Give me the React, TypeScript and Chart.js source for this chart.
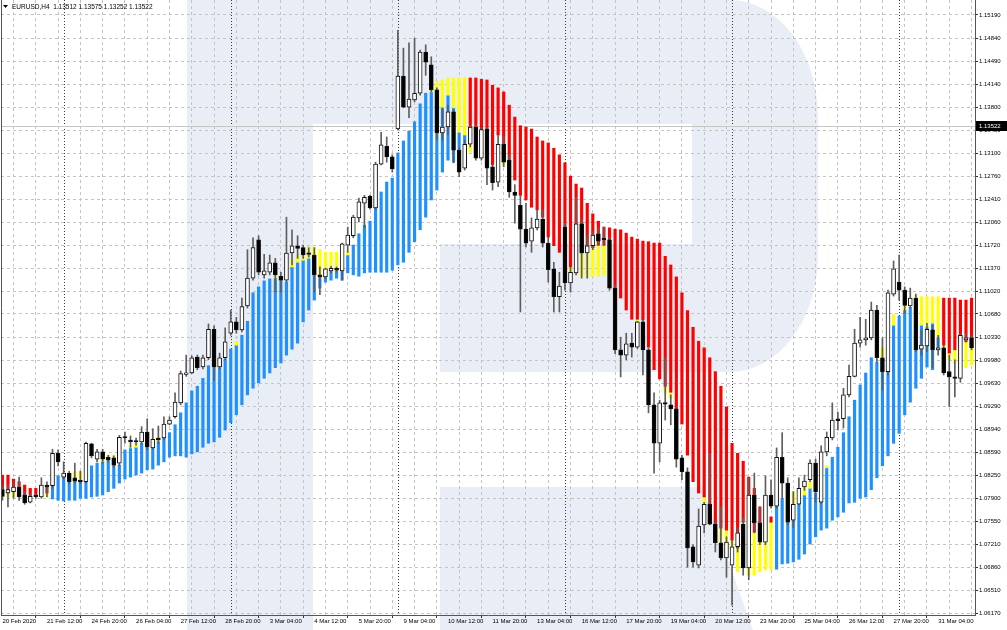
import React, { useEffect, useRef } from 'react';
import { Chart, registerables } from 'chart.js';

Chart.register(...registerables);

// ---- Data (EURUSD H4, 20 Feb 2020 04:00 .. 31 Mar 2020) ----
const opens = [
  1.0803, 1.0798, 1.0800, 1.0807, 1.0795, 1.0784, 1.0795, 1.0792, 1.0810, 1.0809,
  1.0858, 1.0822, 1.0828, 1.0821, 1.0816, 1.0815, 1.0872, 1.0849, 1.0860, 1.0852,
  1.0851, 1.0843, 1.0882, 1.0878, 1.0876, 1.0875, 1.0890, 1.0866, 1.0881, 1.0881,
  1.0902, 1.0913, 1.0934, 1.0977, 1.0979, 1.1003, 1.0988, 1.1002, 1.1045, 1.0988,
  1.1002, 1.1039, 1.1056, 1.1044, 1.1080, 1.1122, 1.1180, 1.1127, 1.1131, 1.1145,
  1.1125, 1.1119, 1.1160, 1.1171, 1.1168, 1.1160, 1.1157, 1.1127, 1.1124, 1.1133,
  1.1137, 1.1133, 1.1172, 1.1186, 1.1213, 1.1235, 1.1246, 1.1228, 1.1294, 1.1321,
  1.1305, 1.1347, 1.1427, 1.1380, 1.1391, 1.1401, 1.1463, 1.1444, 1.1406, 1.1341,
  1.1350, 1.1373, 1.1315, 1.1288, 1.1324, 1.1350, 1.1303, 1.1347, 1.1290, 1.1267,
  1.1324, 1.1300, 1.1252, 1.1232, 1.1196, 1.1178, 1.1198, 1.1211, 1.1175, 1.1136,
  1.1094, 1.1199, 1.1115, 1.1130, 1.1204, 1.1160, 1.1171, 1.1189, 1.1181, 1.1180,
  1.1107, 1.1014, 1.1006, 1.1024, 1.1018, 1.1056, 1.1014, 1.0931, 1.0873, 1.0934,
  1.0931, 1.0925, 1.0851, 1.0830, 1.0717, 1.0689, 1.0750, 1.0781, 1.0751, 1.0723,
  1.0700, 1.0689, 1.0717, 1.0751, 1.0685, 1.0795, 1.0753, 1.0724, 1.0795, 1.0778,
  1.0852, 1.0813, 1.0757, 1.0781, 1.0807, 1.0818, 1.0843, 1.0784, 1.0860, 1.0881,
  1.0910, 1.0910, 1.0946, 1.0974, 1.1024, 1.1029, 1.1032, 1.1074, 1.1002, 1.0981,
  1.1098, 1.1116, 1.1104, 1.1080, 1.1092, 1.1015, 1.1020, 1.1044, 1.1014, 1.1017,
  1.0981, 1.0973, 1.0971, 1.1029, 1.1032,
];
const highs = [
  1.0809, 1.0810, 1.0815, 1.0822, 1.0800, 1.0797, 1.0797, 1.0821, 1.0815, 1.0864,
  1.0863, 1.0845, 1.0831, 1.0843, 1.0831, 1.0875, 1.0873, 1.0864, 1.0864, 1.0855,
  1.0854, 1.0885, 1.0890, 1.0884, 1.0881, 1.0898, 1.0910, 1.0895, 1.0899, 1.0913,
  1.0913, 1.0949, 1.0982, 1.1006, 1.1005, 1.1006, 1.1006, 1.1053, 1.1050, 1.1009,
  1.1047, 1.1074, 1.1063, 1.1092, 1.1165, 1.1183, 1.1186, 1.1158, 1.1157, 1.1152,
  1.1131, 1.1214, 1.1195, 1.1186, 1.1172, 1.1168, 1.1168, 1.1139, 1.1137, 1.1140,
  1.1139, 1.1175, 1.1199, 1.1217, 1.1243, 1.1247, 1.1247, 1.1297, 1.1342, 1.1335,
  1.1308, 1.1496, 1.1469, 1.1477, 1.1484, 1.1466, 1.1474, 1.1456, 1.1409, 1.1379,
  1.1383, 1.1376, 1.1318, 1.1330, 1.1353, 1.1353, 1.1349, 1.1350, 1.1294, 1.1338,
  1.1335, 1.1308, 1.1263, 1.1247, 1.1235, 1.1213, 1.1225, 1.1225, 1.1184, 1.1146,
  1.1131, 1.1205, 1.1139, 1.1244, 1.1210, 1.1187, 1.1192, 1.1198, 1.1199, 1.1184,
  1.1112, 1.1033, 1.1039, 1.1039, 1.1057, 1.1059, 1.1017, 1.0949, 1.0938, 1.1002,
  1.0946, 1.0928, 1.0855, 1.0836, 1.0720, 1.0774, 1.0784, 1.0858, 1.0754, 1.0777,
  1.0732, 1.0727, 1.0746, 1.0760, 1.0821, 1.0828, 1.0777, 1.0824, 1.0818, 1.0866,
  1.0889, 1.0821, 1.0800, 1.0821, 1.0825, 1.0848, 1.0849, 1.0869, 1.0890, 1.0934,
  1.0920, 1.0956, 1.0991, 1.1045, 1.1063, 1.1060, 1.1086, 1.1081, 1.1032, 1.1104,
  1.1148, 1.1157, 1.1109, 1.1107, 1.1098, 1.1044, 1.1054, 1.1051, 1.1036, 1.1021,
  1.1006, 1.0999, 1.1039, 1.1039, 1.1035,
];
const lows = [
  1.0787, 1.0777, 1.0790, 1.0787, 1.0781, 1.0783, 1.0790, 1.0790, 1.0792, 1.0805,
  1.0839, 1.0819, 1.0812, 1.0813, 1.0812, 1.0813, 1.0851, 1.0845, 1.0843, 1.0845,
  1.0836, 1.0839, 1.0873, 1.0867, 1.0870, 1.0872, 1.0863, 1.0864, 1.0873, 1.0878,
  1.0901, 1.0911, 1.0931, 1.0974, 1.0978, 1.0984, 1.0985, 1.0999, 1.0968, 1.0985,
  1.0999, 1.1036, 1.1039, 1.1041, 1.1077, 1.1119, 1.1127, 1.1122, 1.1127, 1.1101,
  1.1101, 1.1116, 1.1142, 1.1152, 1.1152, 1.1154, 1.1101, 1.1097, 1.1121, 1.1130,
  1.1131, 1.1119, 1.1161, 1.1183, 1.1207, 1.1198, 1.1226, 1.1226, 1.1293, 1.1297,
  1.1282, 1.1346, 1.1379, 1.1364, 1.1388, 1.1398, 1.1428, 1.1403, 1.1330, 1.1330,
  1.1338, 1.1296, 1.1275, 1.1285, 1.1320, 1.1300, 1.1300, 1.1263, 1.1255, 1.1260,
  1.1290, 1.1244, 1.1205, 1.1071, 1.1169, 1.1161, 1.1195, 1.1169, 1.1116, 1.1071,
  1.1071, 1.1104, 1.1101, 1.1127, 1.1122, 1.1122, 1.1165, 1.1171, 1.1171, 1.1104,
  1.1008, 1.0973, 1.0999, 1.1003, 1.1016, 1.0976, 1.0919, 1.0828, 1.0845, 1.0908,
  1.0901, 1.0837, 1.0818, 1.0686, 1.0686, 1.0685, 1.0738, 1.0750, 1.0709, 1.0697,
  1.0671, 1.0629, 1.0709, 1.0674, 1.0667, 1.0738, 1.0720, 1.0720, 1.0775, 1.0775,
  1.0790, 1.0750, 1.0746, 1.0780, 1.0802, 1.0815, 1.0784, 1.0781, 1.0854, 1.0878,
  1.0893, 1.0896, 1.0943, 1.0973, 1.1018, 1.1021, 1.1029, 1.0995, 1.0953, 1.0976,
  1.1095, 1.1089, 1.1069, 1.1077, 1.1011, 1.1006, 1.1011, 1.0987, 1.1006, 1.0976,
  1.0928, 1.0943, 1.0965, 1.1026, 1.1014,
];
const closes = [
  1.0793, 1.0803, 1.0807, 1.0792, 1.0783, 1.0793, 1.0792, 1.0810, 1.0807, 1.0858,
  1.0845, 1.0828, 1.0815, 1.0816, 1.0815, 1.0873, 1.0854, 1.0860, 1.0849, 1.0848,
  1.0840, 1.0882, 1.0881, 1.0875, 1.0875, 1.0890, 1.0867, 1.0879, 1.0878, 1.0902,
  1.0908, 1.0935, 1.0978, 1.0979, 1.1002, 1.0987, 1.1002, 1.1045, 1.0988, 1.1002,
  1.1026, 1.1056, 1.1044, 1.1079, 1.1122, 1.1168, 1.1131, 1.1133, 1.1145, 1.1127,
  1.1119, 1.1160, 1.1171, 1.1167, 1.1157, 1.1158, 1.1127, 1.1124, 1.1136, 1.1137,
  1.1134, 1.1174, 1.1187, 1.1214, 1.1237, 1.1244, 1.1228, 1.1294, 1.1323, 1.1305,
  1.1287, 1.1427, 1.1380, 1.1392, 1.1401, 1.1463, 1.1448, 1.1406, 1.1341, 1.1350,
  1.1373, 1.1315, 1.1282, 1.1324, 1.1350, 1.1303, 1.1346, 1.1288, 1.1266, 1.1324,
  1.1297, 1.1252, 1.1247, 1.1196, 1.1175, 1.1198, 1.1211, 1.1175, 1.1135, 1.1094,
  1.1110, 1.1115, 1.1131, 1.1204, 1.1160, 1.1171, 1.1187, 1.1178, 1.1180, 1.1107,
  1.1014, 1.1006, 1.1023, 1.1018, 1.1056, 1.1014, 1.0931, 1.0873, 1.0934, 1.0932,
  1.0925, 1.0849, 1.0830, 1.0715, 1.0694, 1.0748, 1.0781, 1.0751, 1.0723, 1.0700,
  1.0724, 1.0717, 1.0738, 1.0685, 1.0795, 1.0753, 1.0724, 1.0795, 1.0778, 1.0852,
  1.0813, 1.0754, 1.0781, 1.0805, 1.0816, 1.0843, 1.0800, 1.0860, 1.0882, 1.0908,
  1.0907, 1.0946, 1.0974, 1.1024, 1.1029, 1.1032, 1.1074, 1.1002, 1.0981, 1.1100,
  1.1136, 1.1104, 1.1081, 1.1092, 1.1014, 1.1021, 1.1045, 1.1014, 1.1017, 1.0979,
  1.0973, 1.0971, 1.1036, 1.1032, 1.1017,
];

// Indicator histogram: U = blue [low, split] + yellow [split, high]; D = yellow [low, split] + red [split, high]
const trendRuns: [string, number][] = [['D', 9], ['U', 75], ['D', 55], ['U', 30], ['D', 6]];
const indLow = [
  1.0793, 1.0792, 1.0792, 1.0805, 1.0795, 1.0793, 1.0795, 1.0792, 1.0792, 1.0789,
  1.0787, 1.0786, 1.0787, 1.0787, 1.0790, 1.0790, 1.0792, 1.0793, 1.0795, 1.0800,
  1.0805, 1.0813, 1.0819, 1.0822, 1.0825, 1.0828, 1.0833, 1.0834, 1.0840, 1.0845,
  1.0852, 1.0854, 1.0854, 1.0852, 1.0857, 1.0860, 1.0867, 1.0873, 1.0875, 1.0882,
  1.0893, 1.0904, 1.0916, 1.0931, 1.0946, 1.0956, 1.0964, 1.0971, 1.0979, 1.0987,
  1.0994, 1.1006, 1.1015, 1.1024, 1.1056, 1.1074, 1.1089, 1.1107, 1.1116, 1.1119,
  1.1122, 1.1119, 1.1130, 1.1127, 1.1125, 1.1130, 1.1131, 1.1131, 1.1131, 1.1131,
  1.1134, 1.1142, 1.1146, 1.1161, 1.1177, 1.1195, 1.1214, 1.1240, 1.1255, 1.1282,
  1.1300, 1.1297, 1.1293, 1.1303, 1.1312, 1.1350, 1.1346, 1.1346, 1.1293, 1.1338,
  1.1293, 1.1285, 1.1270, 1.1247, 1.1240, 1.1229, 1.1225, 1.1214, 1.1184, 1.1171,
  1.1161, 1.1199, 1.1131, 1.1128, 1.1124, 1.1124, 1.1125, 1.1125, 1.1127, 1.1180,
  1.1092, 1.1092, 1.1074, 1.1060, 1.1056, 1.1059, 1.1018, 1.0984, 1.0970, 1.0949,
  1.0941, 1.0925, 1.0902, 1.0855, 1.0815, 1.0798, 1.0783, 1.0757, 1.0751, 1.0726,
  1.0724, 1.0717, 1.0679, 1.0689, 1.0674, 1.0674, 1.0679, 1.0682, 1.0682, 1.0683,
  1.0691, 1.0692, 1.0694, 1.0698, 1.0706, 1.0721, 1.0732, 1.0742, 1.0745, 1.0757,
  1.0762, 1.0769, 1.0783, 1.0784, 1.0790, 1.0792, 1.0803, 1.0821, 1.0839, 1.0854,
  1.0873, 1.0888, 1.0916, 1.0935, 1.0956, 1.0971, 1.0988, 1.0984, 1.1014, 1.1017,
  1.0999, 1.0994, 1.1036, 1.0987, 1.0991,
];
const indSplit = [
  1.0803, 1.0798, 1.0807, 1.0805, 1.0795, 1.0793, 1.0795, 1.0809, 1.0798, 1.0809,
  1.0824, 1.0822, 1.0815, 1.0818, 1.0816, 1.0815, 1.0839, 1.0843, 1.0845, 1.0848,
  1.0842, 1.0840, 1.0863, 1.0866, 1.0867, 1.0873, 1.0866, 1.0875, 1.0876, 1.0881,
  1.0889, 1.0901, 1.0919, 1.0934, 1.0952, 1.0959, 1.0971, 1.0990, 1.0988, 1.0987,
  1.1000, 1.1015, 1.1021, 1.1036, 1.1057, 1.1100, 1.1109, 1.1118, 1.1121, 1.1122,
  1.1119, 1.1116, 1.1139, 1.1146, 1.1149, 1.1152, 1.1127, 1.1124, 1.1134, 1.1134,
  1.1134, 1.1133, 1.1157, 1.1172, 1.1189, 1.1202, 1.1208, 1.1228, 1.1252, 1.1267,
  1.1273, 1.1311, 1.1329, 1.1344, 1.1358, 1.1385, 1.1401, 1.1403, 1.1406, 1.1379,
  1.1398, 1.1379, 1.1342, 1.1338, 1.1350, 1.1350, 1.1346, 1.1346, 1.1293, 1.1338,
  1.1300, 1.1285, 1.1270, 1.1247, 1.1240, 1.1229, 1.1225, 1.1214, 1.1184, 1.1171,
  1.1161, 1.1199, 1.1139, 1.1134, 1.1160, 1.1168, 1.1168, 1.1172, 1.1172, 1.1180,
  1.1092, 1.1092, 1.1074, 1.1060, 1.1060, 1.1059, 1.1018, 1.0984, 1.0970, 1.0959,
  1.0950, 1.0925, 1.0902, 1.0855, 1.0815, 1.0798, 1.0792, 1.0768, 1.0751, 1.0745,
  1.0742, 1.0727, 1.0715, 1.0754, 1.0795, 1.0739, 1.0753, 1.0787, 1.0754, 1.0778,
  1.0790, 1.0754, 1.0780, 1.0781, 1.0795, 1.0805, 1.0798, 1.0784, 1.0836, 1.0852,
  1.0867, 1.0889, 1.0913, 1.0938, 1.0961, 1.0979, 1.1002, 1.0995, 1.0981, 1.0981,
  1.1051, 1.1065, 1.1074, 1.1078, 1.1078, 1.1051, 1.1048, 1.1054, 1.1033, 1.1021,
  1.1009, 1.1014, 1.1036, 1.1026, 1.1032,
];
const indHigh = [
  1.0825, 1.0825, 1.0819, 1.0815, 1.0810, 1.0805, 1.0805, 1.0809, 1.0807, 1.0809,
  1.0824, 1.0822, 1.0815, 1.0830, 1.0830, 1.0815, 1.0839, 1.0843, 1.0851, 1.0855,
  1.0855, 1.0840, 1.0863, 1.0869, 1.0873, 1.0873, 1.0866, 1.0881, 1.0882, 1.0881,
  1.0889, 1.0901, 1.0919, 1.0934, 1.0952, 1.0959, 1.0971, 1.0990, 1.0988, 1.0987,
  1.1000, 1.1015, 1.1027, 1.1036, 1.1057, 1.1100, 1.1109, 1.1118, 1.1121, 1.1127,
  1.1119, 1.1116, 1.1149, 1.1157, 1.1157, 1.1169, 1.1169, 1.1165, 1.1161, 1.1161,
  1.1161, 1.1133, 1.1163, 1.1172, 1.1189, 1.1202, 1.1208, 1.1228, 1.1252, 1.1267,
  1.1273, 1.1311, 1.1329, 1.1344, 1.1358, 1.1385, 1.1401, 1.1413, 1.1419, 1.1421,
  1.1424, 1.1424, 1.1424, 1.1424, 1.1424, 1.1424, 1.1422, 1.1421, 1.1413, 1.1409,
  1.1403, 1.1383, 1.1365, 1.1352, 1.1350, 1.1347, 1.1335, 1.1329, 1.1326, 1.1318,
  1.1308, 1.1296, 1.1276, 1.1264, 1.1258, 1.1235, 1.1219, 1.1208, 1.1199, 1.1198,
  1.1196, 1.1195, 1.1190, 1.1184, 1.1181, 1.1178, 1.1177, 1.1175, 1.1175, 1.1155,
  1.1142, 1.1124, 1.1100, 1.1073, 1.1048, 1.1027, 1.1017, 1.1002, 1.0981, 1.0959,
  1.0928, 1.0873, 1.0858, 1.0846, 1.0822, 1.0805, 1.0777, 1.0787, 1.0762, 1.0778,
  1.0790, 1.0754, 1.0800, 1.0781, 1.0807, 1.0815, 1.0798, 1.0784, 1.0839, 1.0852,
  1.0867, 1.0889, 1.0913, 1.0938, 1.0961, 1.0979, 1.1002, 1.0995, 1.1017, 1.0981,
  1.1067, 1.1065, 1.1094, 1.1078, 1.1096, 1.1094, 1.1094, 1.1094, 1.1094, 1.1092,
  1.1092, 1.1092, 1.1089, 1.1089, 1.1092,
];

const yTickValues = [
  1.1519, 1.1484, 1.1449, 1.1414, 1.138, 1.1345, 1.131, 1.1276, 1.1241, 1.1206,
  1.1172, 1.1137, 1.1102, 1.1068, 1.1033, 1.0998, 1.0963, 1.0929, 1.0894, 1.0859,
  1.0825, 1.079, 1.0755, 1.0721, 1.0686, 1.0651, 1.0617,
];
const xTickLabels = [
  '20 Feb 2020', '21 Feb 12:00', '24 Feb 20:00', '26 Feb 04:00', '27 Feb 12:00', '28 Feb 20:00',
  '3 Mar 04:00', '4 Mar 12:00', '5 Mar 20:00', '9 Mar 04:00', '10 Mar 12:00', '11 Mar 20:00',
  '13 Mar 04:00', '16 Mar 12:00', '17 Mar 20:00', '19 Mar 04:00', '20 Mar 12:00', '23 Mar 20:00',
  '25 Mar 04:00', '26 Mar 12:00', '27 Mar 20:00', '31 Mar 04:00',
];
const barsPerLabel = 8;
const barsPerGrid = 4;
const weekStartBars = [11, 41, 71, 101, 131, 161];
const currentPrice = 1.13522;
const headerSymbol = 'EURUSD,H4';
const headerOHLC = ['1.13512', '1.13575', '1.13252', '1.13522'];

const FONT = '"Liberation Sans", Arial, "DejaVu Sans", sans-serif';
const BLUE = '#1e90ff';
const YELLOW = '#ffff00';
const RED = '#ff0000';

const decorPlugin = {
  id: 'decor',
  beforeDraw(chart: any) {
    const { ctx, width, height } = chart;
    ctx.save();
    ctx.fillStyle = '#ffffff';
    ctx.fillRect(0, 0, width, height);
    ctx.fillStyle = '#e9edf5';
    // watermark "R" logo
    ctx.fillRect(187, 0, 126, height);
    ctx.beginPath();
    ctx.moveTo(313, 0);
    ctx.lineTo(730, 0);
    ctx.ellipse(730, 117, 88, 117, 0, -Math.PI / 2, 0);
    ctx.lineTo(818, 255);
    ctx.ellipse(730, 255, 88, 117, 0, 0, Math.PI / 2);
    ctx.lineTo(440, 372);
    ctx.lineTo(440, 244);
    ctx.lineTo(692, 244);
    ctx.lineTo(692, 124);
    ctx.lineTo(313, 124);
    ctx.closePath();
    ctx.fill();
    ctx.beginPath();
    ctx.moveTo(440, 487);
    ctx.lineTo(702, 487);
    ctx.lineTo(753, height);
    ctx.lineTo(440, height);
    ctx.closePath();
    ctx.fill();
    ctx.restore();
  },
  beforeDatasetsDraw(chart: any) {
    const { ctx, chartArea, scales } = chart;
    ctx.save();
    ctx.beginPath();
    ctx.rect(chartArea.left, chartArea.top, chartArea.right - chartArea.left, chartArea.bottom - chartArea.top);
    ctx.clip();
    ctx.strokeStyle = '#3a3a3a';
    ctx.lineWidth = 1;
    ctx.setLineDash([1, 2]);
    weekStartBars.forEach((b) => {
      const x = Math.round(scales.x.getPixelForValue(b)) + 0.5;
      ctx.beginPath();
      ctx.moveTo(x, chartArea.top);
      ctx.lineTo(x, chartArea.bottom);
      ctx.stroke();
    });
    ctx.setLineDash([]);
    ctx.strokeStyle = '#c6c6c6';
    const y = Math.round(scales.y.getPixelForValue(currentPrice)) + 0.5;
    ctx.beginPath();
    ctx.moveTo(chartArea.left, y);
    ctx.lineTo(chartArea.right, y);
    ctx.stroke();
    ctx.restore();
  },
  afterDraw(chart: any) {
    const { ctx, chartArea, scales, width } = chart;
    ctx.save();
    ctx.strokeStyle = '#555555';
    ctx.lineWidth = 1;
    ctx.beginPath();
    ctx.moveTo(chartArea.left + 0.5, chartArea.top);
    ctx.lineTo(chartArea.left + 0.5, chartArea.bottom);
    ctx.stroke();
    const y = scales.y.getPixelForValue(currentPrice);
    ctx.fillStyle = '#000000';
    ctx.fillRect(chartArea.right + 1, Math.round(y) - 5, width - chartArea.right - 1, 10);
    ctx.fillStyle = '#ffffff';
    ctx.font = `6px ${FONT}`;
    ctx.textBaseline = 'middle';
    ctx.textAlign = 'left';
    ctx.fillText(currentPrice.toFixed(5), chartArea.right + 4, Math.round(y));
    ctx.fillStyle = '#000000';
    ctx.beginPath();
    ctx.moveTo(3, 5);
    ctx.lineTo(8, 5);
    ctx.lineTo(5.5, 8);
    ctx.closePath();
    ctx.fill();
    ctx.font = `6.5px ${FONT}`;
    ctx.fillText(`${headerSymbol}  ${headerOHLC.join(' ')}`, 12, 7);
    ctx.restore();
  },
};

export default function App() {
  const ref = useRef<HTMLCanvasElement>(null);

  useEffect(() => {
    document.body.style.margin = '0';
    const canvas = ref.current;
    if (!canvas) return;
    const n = opens.length;
    const trend: string[] = [];
    trendRuns.forEach(([t, c]) => { for (let k = 0; k < c; k++) trend.push(t); });
    const idx = Array.from({ length: n }, (_, i) => i);

    const bluePts = idx.filter((i) => trend[i] === 'U' && indSplit[i] > indLow[i])
      .map((i) => ({ x: i, y: [indLow[i], indSplit[i]] }));
    const yellowPts = idx.filter((i) => (trend[i] === 'U' ? indHigh[i] > indSplit[i] : indSplit[i] > indLow[i]))
      .map((i) => ({ x: i, y: trend[i] === 'U' ? [indSplit[i], indHigh[i]] : [indLow[i], indSplit[i]] }));
    const redPts = idx.filter((i) => trend[i] === 'D' && indHigh[i] > indSplit[i])
      .map((i) => ({ x: i, y: [indSplit[i], indHigh[i]] }));
    const wickPts = idx.map((i) => ({ x: i, y: [lows[i], highs[i]] }));
    const bodyPts = idx.map((i) => ({ x: i, y: [Math.min(opens[i], closes[i]), Math.max(opens[i], closes[i])] }));
    const bodyFill = idx.map((i) => (closes[i] >= opens[i] ? '#ffffff' : '#000000'));

    const gridValues: number[] = [];
    for (let v = 0; v < n; v += barsPerGrid) gridValues.push(v);

    const common = { type: 'bar' as const, grouped: false, borderWidth: 0 };
    const chart = new Chart(canvas, {
      type: 'bar',
      data: {
        datasets: [
          { ...common, label: 'bodies', data: bodyPts as any, order: 0, barThickness: 4,
            backgroundColor: bodyFill, borderColor: '#111111', borderWidth: 1, borderSkipped: false, minBarLength: 1.5 },
          { ...common, label: 'wicks', data: wickPts as any, order: 1, barThickness: 1, backgroundColor: '#5e5e5e' },
          { ...common, label: 'red', data: redPts as any, order: 2, barThickness: 2.5, backgroundColor: RED },
          { ...common, label: 'yellow', data: yellowPts as any, order: 2, barThickness: 2.5, backgroundColor: YELLOW },
          { ...common, label: 'blue', data: bluePts as any, order: 2, barThickness: 2.5, backgroundColor: BLUE },
        ],
      },
      options: {
        animation: false,
        responsive: false,
        devicePixelRatio: 1,
        events: [],
        layout: { padding: { left: 1, top: 0, right: 0, bottom: 0 } },
        plugins: { legend: { display: false }, tooltip: { enabled: false }, title: { display: false } },
        scales: {
          x: {
            type: 'linear',
            min: -0.25,
            max: 174.62,
            offset: false,
            afterBuildTicks: (s: any) => { s.ticks = gridValues.map((v) => ({ value: v })); },
            afterFit: (s: any) => { s.height = 15; s.paddingLeft = 0; s.paddingRight = 0; },
            ticks: {
              autoSkip: false,
              maxRotation: 0,
              minRotation: 0,
              align: 'start',
              padding: 0,
              color: '#000000',
              font: { family: FONT, size: 6 },
              callback: (v: any) => (Number(v) % barsPerLabel === 0 ? xTickLabels[Number(v) / barsPerLabel] : ''),
            },
            grid: {
              color: '#c4c4c4',
              lineWidth: 1,
              drawTicks: true,
              tickLength: 3,
              tickColor: (c: any) => (c.tick && c.tick.value % barsPerLabel === 0 ? '#333333' : 'rgba(0,0,0,0)'),
            },
            border: { display: true, color: '#555555', dash: [3, 3] },
          },
          y: {
            type: 'linear',
            position: 'right',
            min: 1.0614,
            max: 1.15416,
            afterBuildTicks: (s: any) => { s.ticks = yTickValues.map((v) => ({ value: v })); },
            afterFit: (s: any) => { s.width = 32; s.paddingTop = 0; s.paddingBottom = 0; },
            ticks: {
              padding: 1,
              color: '#000000',
              font: { family: FONT, size: 6 },
              callback: (v: any) => Number(v).toFixed(5),
            },
            grid: { color: '#c4c4c4', lineWidth: 1, tickLength: 3, tickColor: '#333333' },
            border: { display: true, color: '#555555', dash: [3, 3] },
          },
        },
      },
      plugins: [decorPlugin],
    } as any);

    return () => chart.destroy();
  }, []);

  return (
    <div style={{ width: 1007, height: 630 }}>
      <canvas ref={ref} width={1007} height={630} style={{ display: 'block', width: 1007, height: 630 }} />
    </div>
  );
}
